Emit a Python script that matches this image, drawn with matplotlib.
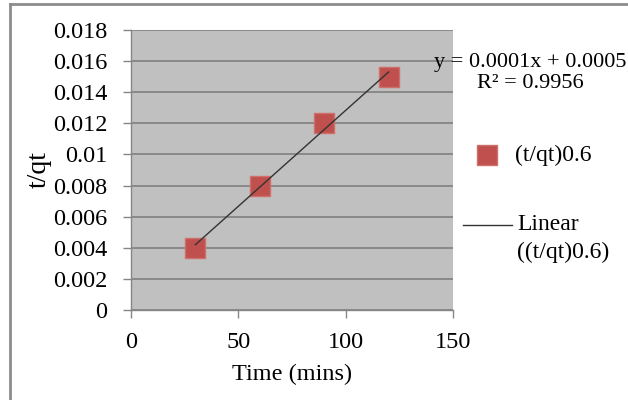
import matplotlib.pyplot as plt
import numpy as np
from matplotlib.lines import Line2D

# data
time_mins = [30, 60, 90, 120]
t_qt = [0.004, 0.008, 0.012, 0.015]
x_ticks = [0, 50, 100, 150]
y_ticks = [0, 0.002, 0.004, 0.006, 0.008, 0.01, 0.012, 0.014, 0.016, 0.018]
y_tick_labels = ['0', '0.002', '0.004', '0.006', '0.008', '0.01', '0.012', '0.014', '0.016', '0.018']
series_name = '(t/qt)0.6'
equation = 'y = 0.0001x + 0.0005'
r_squared = 'R² = 0.9956'

plt.rcParams['font.family'] = ['Liberation Serif', 'DejaVu Serif']

fig = plt.figure(figsize=(6.28, 4.0), dpi=100)
W, H = 628, 400
ax = fig.add_axes([131 / W, 1 - 310 / H, (453 - 131) / W, (310 - 30) / H])

ax.set_facecolor('#c0c0c0')
ax.set_xlim(0, 150)
ax.set_ylim(0, 0.018)
ax.set_xticks(x_ticks)
ax.set_yticks(y_ticks)
ax.set_yticklabels(y_tick_labels)
ax.grid(axis='y', color='#858585', linewidth=1.3)
ax.set_axisbelow(True)

for side in ('top', 'right'):
    ax.spines[side].set_visible(False)
for side in ('left', 'bottom'):
    ax.spines[side].set_color('#868686')
    ax.spines[side].set_linewidth(1.0)
ax.tick_params(axis='both', colors='#868686', length=6, width=1.0,
               labelsize=17.5, labelcolor='black')
ax.tick_params(axis='x', pad=10)
ax.tick_params(axis='y', pad=11)

# linear trendline over data range
coef = np.polyfit(time_mins, t_qt, 1)
xs = np.array([min(time_mins), max(time_mins)])
ax.plot(xs, np.polyval(coef, xs), color='#333333', linewidth=1.0, zorder=4)
ax.scatter(time_mins, t_qt, marker='s', s=15 ** 2, color='#c0504d',
           edgecolors='#cf6f6c', linewidths=1.0, zorder=3, clip_on=False)

ax.set_xlabel('Time (mins)', fontsize=17.5, labelpad=8)
ax.set_ylabel('t/qt', fontsize=20, labelpad=1)

fig.text(530 / W, 1 - 62 / H, equation, fontsize=16, ha='center', va='center')
fig.text(530 / W, 1 - 83 / H, r_squared, fontsize=16, ha='center', va='center')

# legend drawn by hand at the right
fig.add_artist(Line2D([487 / W], [1 - 155 / H], marker='s', markersize=14,
                      color='#c0504d', markeredgecolor='#cf6f6c', linestyle='none'))
fig.text(515 / W, 1 - 155 / H, series_name, fontsize=17, va='center')
fig.add_artist(Line2D([463 / W, 512 / W], [1 - 225 / H, 1 - 225 / H],
                      color='#333333', linewidth=1.0))
fig.text(517 / W, 1 - 225 / H, 'Linear', fontsize=17, va='center')
fig.text(517 / W, 1 - 252 / H, '(' + series_name + ')', fontsize=17, va='center')

# frame lines of the chart box (top and left visible in crop)
fig.add_artist(Line2D([10 / W, 1], [1 - 4 / H, 1 - 4 / H], color='#8c8c8c', linewidth=2))
fig.add_artist(Line2D([10 / W, 10 / W], [0, 1 - 4 / H], color='#8c8c8c', linewidth=2))

fig.savefig('out.png', dpi=100)
